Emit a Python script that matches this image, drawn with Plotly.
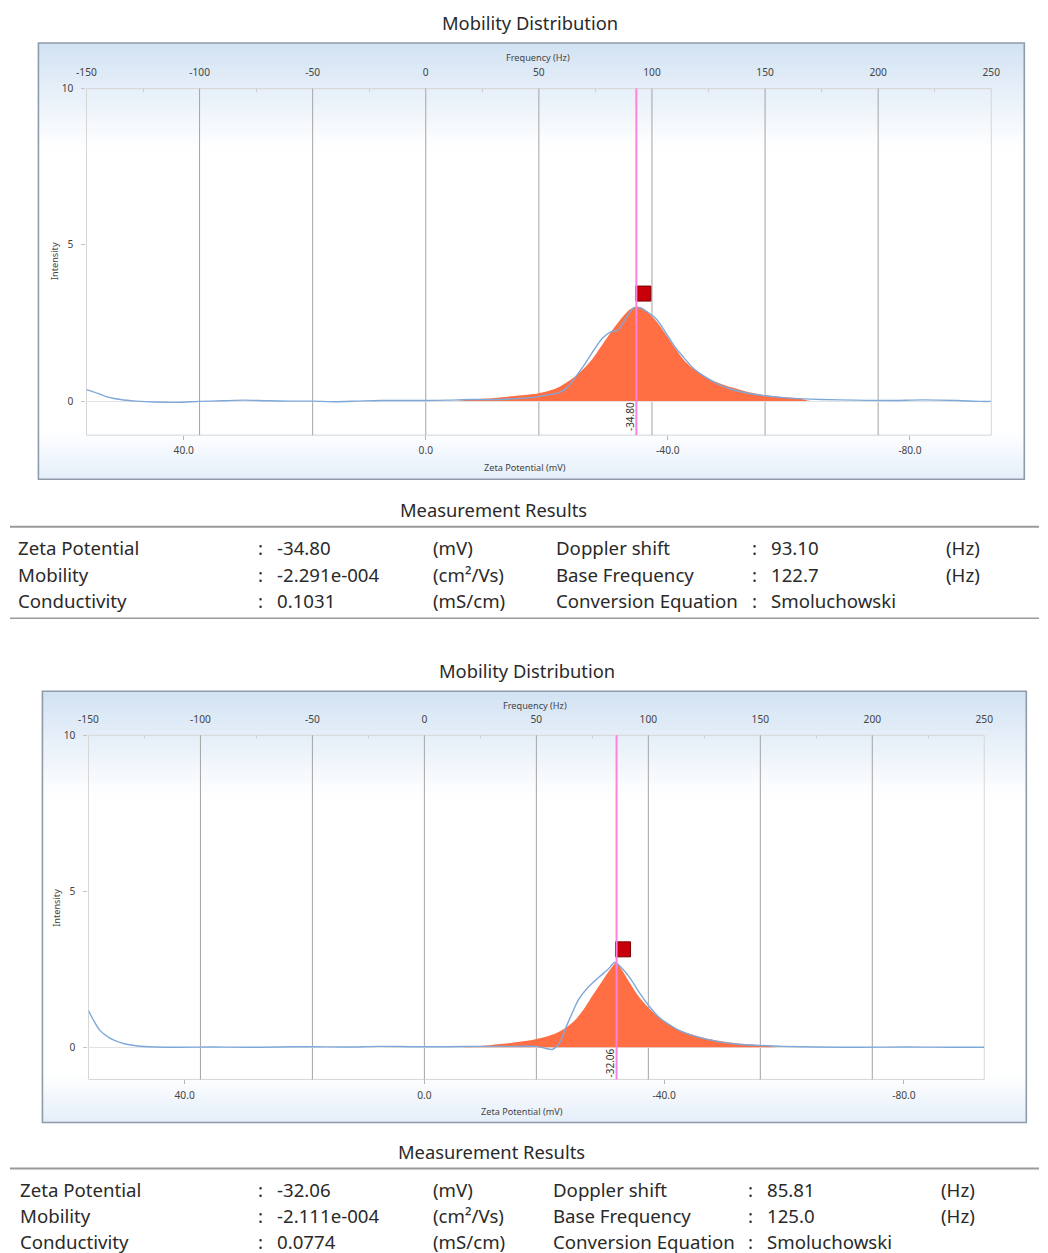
import plotly.graph_objects as go

W, H = 1048, 1253

# ---------------- shared axis / table definitions ----------------
freq_ticks = [-150, -100, -50, 0, 50, 100, 150, 200, 250]
freq_tick_labels = ["-150", "-100", "-50", "0", "50", "100", "150", "200", "250"]
grid_freqs = [-100, -50, 0, 50, 100, 150, 200]
zeta_ticks = [40, 0, -40, -80]
zeta_tick_labels = ["40.0", "0.0", "-40.0", "-80.0"]
intensity_ticks = [0, 5, 10]

names_left = ["Zeta Potential", "Mobility", "Conductivity"]
units_left = ["(mV)", "(cm²/Vs)", "(mS/cm)"]
names_right = ["Doppler shift", "Base Frequency", "Conversion Equation"]
units_right = ["(Hz)", "(Hz)", ""]

# ---------------- measurement 1 ----------------
m1_fit_freq = [13, 20, 30, 40, 50, 58, 64, 69, 74, 78, 82, 86, 90, 92.5, 95, 98, 102,
               106, 110, 114, 118, 122, 127, 135, 142, 150, 158, 166, 170]
m1_fit_int = [0.0, 0.05, 0.1, 0.17, 0.25, 0.42, 0.68, 0.98, 1.38, 1.8, 2.22, 2.6, 2.92,
              3.02, 3.0, 2.85, 2.55, 2.15, 1.72, 1.32, 1.05, 0.85, 0.65, 0.44, 0.3, 0.19,
              0.13, 0.07, 0.0]
m1_raw_freq = [-150, -145, -140, -135, -128, -120, -110, -100, -90, -80, -70, -60, -50,
               -40, -30, -20, -10, 0, 10, 20, 30, 40, 48, 54, 58, 62, 66, 70, 74, 78, 82,
               85, 88, 92, 95, 98, 102, 106, 110, 114, 118, 123, 129, 135, 142, 150, 158,
               165, 175, 190, 205, 220, 235, 245, 250]
m1_raw_int = [0.37, 0.25, 0.12, 0.05, 0.0, -0.03, -0.04, -0.01, 0.01, 0.03, 0.01, 0.0,
              0.0, -0.02, 0.0, 0.02, 0.02, 0.02, 0.03, 0.05, 0.05, 0.08, 0.12, 0.2, 0.25,
              0.4, 0.75, 1.15, 1.6, 2.0, 2.22, 2.27, 2.6, 2.98, 2.98, 2.85, 2.62, 2.2,
              1.75, 1.4, 1.07, 0.8, 0.55, 0.38, 0.26, 0.17, 0.11, 0.08, 0.05, 0.03, 0.02,
              0.04, 0.02, -0.01, -0.01]
m1_peak_freq = [96.2]
m1_peak_int = [3.44]
m1_values_left = ["-34.80", "-2.291e-004", "0.1031"]
m1_values_right = ["93.10", "122.7", "Smoluchowski"]

# ---------------- measurement 2 ----------------
m2_fit_freq = [17, 25, 35, 45, 52, 58, 63, 67, 71, 75, 79, 83, 85.8, 88, 91, 95, 99, 103,
               107, 112, 118, 125, 133, 142, 150, 155, 157]
m2_fit_int = [0.0, 0.04, 0.11, 0.2, 0.3, 0.43, 0.62, 0.85, 1.2, 1.65, 2.08, 2.5, 2.72,
              2.5, 2.15, 1.7, 1.35, 1.07, 0.85, 0.62, 0.44, 0.3, 0.19, 0.11, 0.06, 0.03,
              0.0]
m2_raw_freq = [-150, -148, -145, -141, -137, -133, -128, -120, -110, -95, -80, -65, -50,
               -35, -20, -5, 10, 25, 40, 50, 54, 57, 60, 63, 66, 69, 73, 78, 82, 85, 88,
               92, 96, 100, 105, 110, 115, 121, 130, 140, 150, 160, 175, 195, 215, 235,
               250]
m2_raw_int = [1.18, 0.9, 0.55, 0.32, 0.18, 0.1, 0.04, 0.01, 0.0, 0.01, 0.0, 0.01, 0.02,
              0.01, 0.03, 0.02, 0.02, 0.03, 0.03, 0.03, -0.03, -0.07, 0.1, 0.6, 1.1, 1.55,
              1.92, 2.25, 2.5, 2.72, 2.55, 2.2, 1.75, 1.35, 0.95, 0.7, 0.5, 0.35, 0.2, 0.1,
              0.06, 0.03, 0.01, 0.0, 0.01, 0.0, 0.0]
m2_peak_freq = [88.7]
m2_peak_int = [3.14]
m2_values_left = ["-32.06", "-2.111e-004", "0.0774"]
m2_values_right = ["85.81", "125.0", "Smoluchowski"]

FONT = "Noto Sans"
TXT = "#2a2a2a"
FILL = "#ff6f43"
RAW = "#7fa8da"
PINK = "#ff82dc"
GRID = "#a4a4a4"

# page placement of the figure (offset and scale of the drawn page)
OX, SX = 10.6, 0.981
OY, SY = 7.0, 0.994


def px(x):
    return min(max((x - OX) / SX / W, 0), 1)


def py(y):
    return min(max(1 - (y - OY) / SY / H, 0), 1)


fig = go.Figure()
shapes = []
annotations = []
layout_axes = {}


def label(x, y, text, size, color=TXT, xanchor="center", angle=0):
    annotations.append(dict(xref="paper", yref="paper", x=px(x), y=py(y), text=text,
                            xanchor=xanchor, yanchor="middle", textangle=angle,
                            showarrow=False,
                            font=dict(family=FONT, size=size / SX, color=color)))


def mix(c0, c1, t):
    return "rgb({},{},{})".format(*[round(a + (b - a) * t) for a, b in zip(c0, c1)])


def gradient_band(x0, x1, y0, y1, c0, c1, steps=24):
    h = (y1 - y0) / steps
    for i in range(steps):
        shapes.append(dict(type="rect", xref="paper", yref="paper", layer="below",
                           x0=px(x0), x1=px(x1), y0=py(y0 + i * h), y1=py(y0 + (i + 1) * h + 0.6),
                           fillcolor=mix(c0, c1, (i + 0.5) / steps), line_width=0))


def chart(n, box, plot, yrange, fit_f, fit_i, raw_f, raw_i, pk_f, pk_i,
          vals_left, vals_right, title_y, table):
    fx = "x" if n == 1 else "x3"
    zx = "x2" if n == 1 else "x4"
    yy = "y" if n == 1 else "y2"
    fxk = "xaxis" if n == 1 else "xaxis3"
    zxk = "xaxis2" if n == 1 else "xaxis4"
    yk = "yaxis" if n == 1 else "yaxis2"

    zeta = float(vals_left[0])
    doppler = float(vals_right[0])
    mv_per_hz = zeta / doppler

    bx0, by0, bx1, by1 = box
    x0, y0, x1, y1 = plot

    # panel background and frame
    gradient_band(bx0, bx1, by0, by0 + 105, (210, 226, 243), (255, 255, 255))
    gradient_band(bx0, bx1, by1 - 48, by1, (255, 255, 255), (228, 238, 249))
    shapes.append(dict(type="rect", xref="paper", yref="paper", layer="above",
                       x0=px(bx0), x1=px(bx1), y0=py(by1), y1=py(by0),
                       line=dict(color="#8f9ba8", width=1.6)))

    fig.add_trace(go.Scatter(x=fit_f, y=fit_i, xaxis=fx, yaxis=yy, mode="lines",
                             line=dict(width=0, color=FILL, shape="spline", smoothing=0.8),
                             fill="tozeroy", fillcolor=FILL, hoverinfo="skip",
                             showlegend=False))
    fig.add_trace(go.Scatter(x=raw_f, y=raw_i, xaxis=fx, yaxis=yy, mode="lines",
                             line=dict(width=1.4, color=RAW, shape="spline", smoothing=0.8),
                             showlegend=False))
    fig.add_trace(go.Scatter(x=pk_f, y=pk_i, xaxis=fx, yaxis=yy, mode="markers",
                             marker=dict(symbol="square", size=15, color="#c8000a",
                                         line=dict(color="#7a0000", width=1)),
                             showlegend=False))

    dom_x = [px(x0), px(x1)]
    dom_y = [py(y1), py(y0)]
    tickfont = dict(family=FONT, size=10.2, color="#444444")
    layout_axes[fxk] = dict(domain=dom_x, anchor=yy, side="top", range=[-150, 250],
                            tickvals=freq_ticks, ticktext=freq_tick_labels, ticks="",
                            showgrid=False, zeroline=False,
                            showline=False, tickfont=tickfont, ticklabelstandoff=9,
                            minor=dict(tickvals=[-125, -75, -25, 25, 75, 125, 175, 225],
                                       ticks="inside", ticklen=3, tickcolor="#cfcfcf"))
    layout_axes[zxk] = dict(overlaying=fx, anchor=yy, side="bottom",
                            range=[-150 * mv_per_hz, 250 * mv_per_hz],
                            tickvals=zeta_ticks, ticktext=zeta_tick_labels,
                            ticks="outside", ticklen=4, tickcolor="#b5b5b5",
                            showgrid=False, zeroline=False, showline=False,
                            tickfont=tickfont, ticklabelstandoff=2)
    layout_axes[yk] = dict(domain=dom_y, anchor=fx, range=yrange, tickvals=intensity_ticks,
                           ticks="outside", ticklen=4, tickcolor="#c5c5c5",
                           showgrid=False, zeroline=True, zerolinecolor="#e2e2e2",
                           zerolinewidth=1, showline=False, tickfont=tickfont,
                           ticklabelstandoff=6)

    # plot-area border and vertical grid
    shapes.append(dict(type="rect", xref="paper", yref="paper", layer="below",
                       x0=px(x0), x1=px(x1), y0=py(y1), y1=py(y0),
                       line=dict(color="#d6d6d6", width=1)))
    for g in grid_freqs:
        shapes.append(dict(type="line", xref=fx, yref=yy + " domain", layer="below",
                           x0=g, x1=g, y0=0, y1=1, line=dict(color=GRID, width=1)))
    # zeta potential marker line with its value
    shapes.append(dict(type="line", xref=zx, yref=yy + " domain", layer="above",
                       x0=zeta, x1=zeta, y0=0, y1=1, line=dict(color=PINK, width=2)))
    annotations.append(dict(xref=zx, yref=yy, x=zeta, y=-0.5, xshift=-7,
                            xanchor="center", yanchor="middle",
                            text=vals_left[0], textangle=-90, showarrow=False,
                            font=dict(family=FONT, size=10, color="#333333")))

    # titles
    cx = (x0 + x1) / 2
    label(cx - 9, title_y, "Mobility Distribution", 18)
    label(cx - 1, by0 + 14, "Frequency (Hz)", 9, "#444444")
    label(cx - 14, y1 + 32, "Zeta Potential (mV)", 9, "#444444")
    label(x0 - 32, y0 + 172, "Intensity", 9, "#444444", angle=-90)

    # measurement results table
    t_title, t_line, rows, cols, t_bottom = table
    label(cx - 45, t_title, "Measurement Results", 18)
    shapes.append(dict(type="line", xref="paper", yref="paper", x0=px(7), x1=1,
                       y0=py(t_line), y1=py(t_line), line=dict(color="#9a9a9a", width=2)))
    if t_bottom is not None:
        shapes.append(dict(type="line", xref="paper", yref="paper", x0=px(7), x1=1,
                           y0=py(t_bottom), y1=py(t_bottom),
                           line=dict(color="#9a9a9a", width=1.5)))
    c_name, c_colon, c_val, c_unit, c_name2, c_colon2, c_val2, c_unit2 = cols
    cells = [(c_name, names_left), (c_colon, [":"] * 3), (c_val, vals_left),
             (c_unit, units_left), (c_name2, names_right), (c_colon2, [":"] * 3),
             (c_val2, vals_right), (c_unit2, units_right)]
    for colx, texts in cells:
        for ry, t in zip(rows, texts):
            if t:
                label(colx, ry, t, 18.3, xanchor="left")


chart(1, (39, 43, 1024, 479), (87, 88.5, 991, 435), [-1.09, 10],
      m1_fit_freq, m1_fit_int, m1_raw_freq, m1_raw_int, m1_peak_freq, m1_peak_int,
      m1_values_left, m1_values_right, 22,
      (509, 526.5, [547, 574, 600], [17, 256, 275, 431, 554, 750, 769, 944], 618))
chart(2, (43, 691, 1026, 1122), (89, 735, 984, 1079), [-1.03, 10],
      m2_fit_freq, m2_fit_int, m2_raw_freq, m2_raw_int, m2_peak_freq, m2_peak_int,
      m2_values_left, m2_values_right, 670,
      (1151, 1168, [1189, 1215, 1241], [19, 256, 275, 431, 551, 746, 765, 939], None))

fig.update_layout(width=W, height=H, margin=dict(l=0, r=0, t=0, b=0),
                  paper_bgcolor="white", plot_bgcolor="rgba(0,0,0,0)",
                  shapes=shapes, annotations=annotations, showlegend=False,
                  **layout_axes)

fig.write_html("out.html")
